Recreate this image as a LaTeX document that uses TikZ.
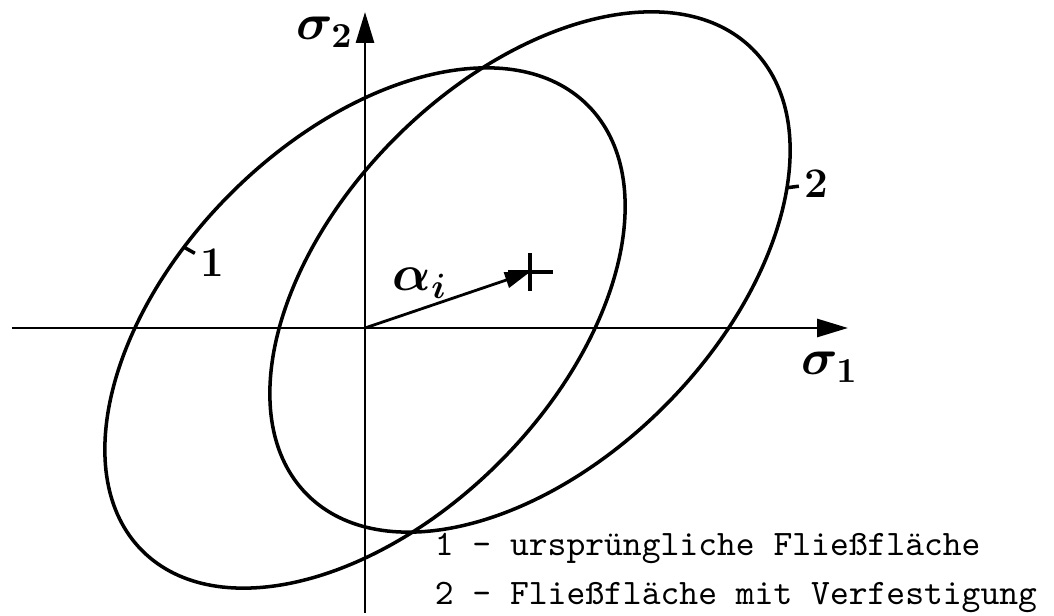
\documentclass[tikz,border=0pt]{standalone}
\usepackage{fontspec}
\usetikzlibrary{arrows.meta}

\begin{document}
\begin{tikzpicture}[line width=1pt,
  axis/.style={line width=0.8pt,-{Triangle[length=3.1mm,width=1.8mm]}},
  hand/.style={font=\Large\bfseries\boldmath,inner sep=1pt},
  num/.style={font=\large\bfseries,inner sep=1pt},
  legend/.style={font=\ttfamily\fontsize{10.2}{12}\selectfont,inner sep=0pt,anchor=base west}]
  \useasboundingbox (0,0) rectangle (10.54,6.15);
  % ejes
  \coordinate (O) at (3.65,2.87);
  \coordinate (xs) at (0.12,2.87);
  \coordinate (xe) at (8.48,2.87);
  \coordinate (ys) at (3.65,0.02);
  \coordinate (ye) at (3.65,6.03);
  \draw[axis] (xs) -- (xe);
  \draw[axis] (ys) -- (ye);
  \node[hand] (s1) at (8.30,2.48) {$\sigma_1$};
  \node[hand] (s2) at (3.25,5.83) {$\sigma_2$};
  % flaeche 1 (mitte O)
  \draw[rotate around={45:(O)}] (O) ellipse [x radius=3.15, y radius=1.9];
  \begin{scope}[shift={(O)},rotate=45]
    \coordinate (t1) at (103:3.15 and 1.9);
  \end{scope}
  \node[num] (n1) at (2.12,3.52) {1};
  \draw (t1) -- (n1);
  % flaeche 2 (verschoben um alpha_i)
  \coordinate (C) at (5.30,3.43);
  \draw[rotate around={45:(C)}] (C) ellipse [x radius=3.15, y radius=1.9];
  \begin{scope}[shift={(C)},rotate=45]
    \coordinate (t2) at (-40:3.15 and 1.9);
  \end{scope}
  \node[num] (n2) at (8.16,4.31) {2};
  \draw (t2) -- (n2);
  % verschiebung
  \draw[line width=0.8pt,-{Triangle[length=2.5mm,width=1.6mm]}] (O) -- (C);
  \draw (C) +(-0.22,0) -- +(0.23,0);
  \draw (C) +(0,-0.19) -- +(0,0.19);
  \node[hand] (al) at (4.20,3.32) {$\alpha_i$};
  % legende
  \node[legend] (leg1) at (4.33,0.60) {1 - ursprüngliche Fließfläche};
  \node[legend] (leg2) at (4.33,0.11) {2 - Fließfläche mit Verfestigung};
\end{tikzpicture}
\end{document}
